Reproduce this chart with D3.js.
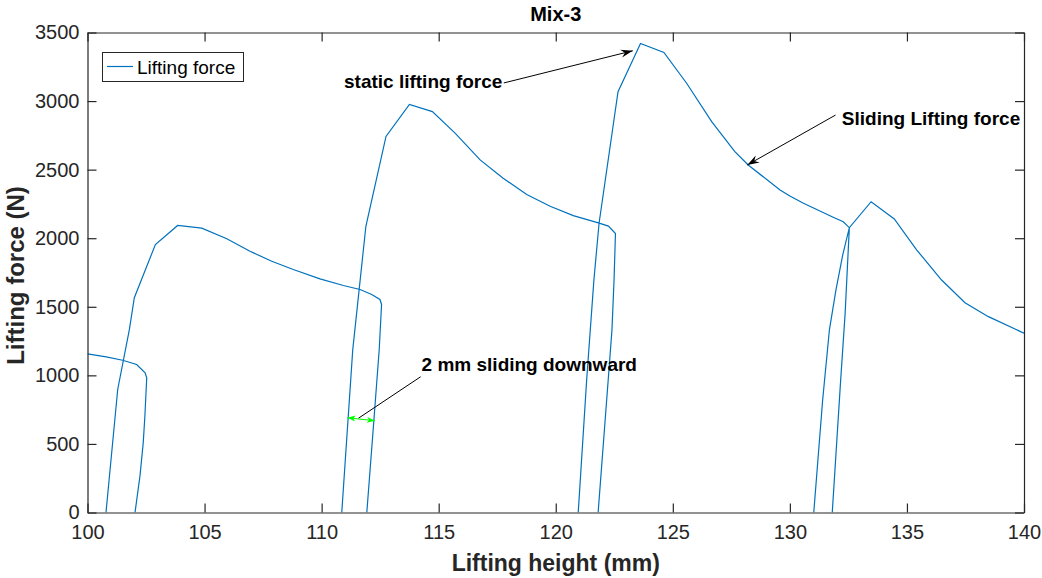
<!DOCTYPE html>
<html>
<head>
<meta charset="utf-8">
<script src="https://cdn.jsdelivr.net/npm/d3@7"></script>
<style>
  body { margin: 0; background: #fff; }
  svg { display: block; font-family: "Liberation Sans", Arial, sans-serif; }
</style>
</head>
<body>
<svg id="chart" width="1042" height="578"></svg>
<script>
// ---------- data ----------
const chartTitle = "Mix-3";
const xLabel = "Lifting height (mm)";
const yLabel = "Lifting force (N)";
const seriesName = "Lifting force";
const xTicks = [100, 105, 110, 115, 120, 125, 130, 135, 140];
const yTicks = [0, 500, 1000, 1500, 2000, 2500, 3000, 3500];

// lifting height (mm); NaN separates the cycles
const liftX = [
  100.0, 100.8, 101.5, 102.1, 102.46, 102.53, 102.45, 102.38, 102.24, 102.03, NaN,
  100.79, 101.29, 101.79, 102.0, 102.9, 103.85, 104.88, 105.95, 106.94, 107.87, 108.79, 109.93, 110.93, 111.64, 112.14, 112.49, 112.56, 112.46, 112.2, 111.93, NaN,
  110.86, 111.33, 111.89, 112.75, 113.75, 114.73, 115.7, 116.77, 117.74, 118.76, 119.76, 120.75, 121.82, 122.25, 122.55, 122.49, 122.4, 122.24, 121.81, NaN,
  120.96, 121.32, 121.63, 121.85, 122.66, 123.62, 124.62, 125.59, 126.66, 127.65, 128.22, 129.58, 130.0, 130.58, 131.85, 132.28, 132.54, 132.36, 132.17, 131.81, NaN,
  131.02, 131.4, 131.69, 131.97, 132.26, 132.54, 133.47, 134.46, 135.42, 136.48, 137.48, 138.48, 140.0
];
// lifting force (N)
const liftF = [
  1157, 1135, 1110, 1079, 1019, 982, 700, 508, 265, 0, NaN,
  0, 897, 1335, 1566, 1954, 2093, 2073, 1996, 1905, 1832, 1772, 1704, 1655, 1626, 1590, 1553, 1517, 1188, 600, 0, NaN,
  0, 1188, 2087, 2742, 2976, 2923, 2766, 2571, 2439, 2318, 2233, 2165, 2112, 2088, 2034, 1695, 1330, 966, 0, NaN,
  0, 966, 1696, 2109, 3068, 3420, 3355, 3130, 2850, 2631, 2534, 2352, 2308, 2255, 2153, 2120, 2077, 1452, 967, 0, NaN,
  0, 820, 1334, 1625, 1880, 2077, 2266, 2140, 1914, 1695, 1530, 1428, 1307
];

// annotations (data coordinates)
const annotText = ["static lifting force", "Sliding Lifting force", "2 mm sliding downward"];
const annotTextPos = [[117.72, 3095], [132.22, 2826], [114.27, 1034]];
const annotAnchor = ["end", "start", "start"];
const annotArrowFrom = [[117.78, 3132], [131.95, 2898], [114.23, 990]];
const annotArrowTo = [[123.29, 3367], [128.18, 2534], [111.57, 687]];
const annotArrowHead = [true, true, false];
const slideArrowFrom = [111.1, 691];
const slideArrowTo = [112.28, 669];

// ---------- layout ----------
const svg = d3.select("#chart");
const L = 87.5, R = 1024, T = 32.5, B = 512.5;
const x = d3.scaleLinear().domain([100, 140]).range([L, R]);
const y = d3.scaleLinear().domain([0, 3500]).range([B, T]);
const axisColor = "#262626";
const lineColor = "#0072BD";

const defs = svg.append("defs");
defs.append("marker").attr("id", "headBlack")
  .attr("viewBox", "-12 -5 14 10").attr("markerWidth", 14).attr("markerHeight", 10)
  .attr("markerUnits", "userSpaceOnUse").attr("refX", 0).attr("refY", 0).attr("orient", "auto")
  .append("path").attr("d", "M0,0 L-12,-4 L-8,0 L-12,4 Z").attr("fill", "#000");
defs.append("marker").attr("id", "headGreen")
  .attr("viewBox", "-9 -4 10 8").attr("markerWidth", 10).attr("markerHeight", 8)
  .attr("markerUnits", "userSpaceOnUse").attr("refX", 0).attr("refY", 0).attr("orient", "auto-start-reverse")
  .append("path").attr("d", "M0,0 L-8,-3 L-6,0 L-8,3 Z").attr("fill", "#00FF00");
defs.append("clipPath").attr("id", "plotClip")
  .append("rect").attr("x", L).attr("y", T).attr("width", R - L).attr("height", B - T);

// data line
const pts = liftX.map((d, i) => [d, liftF[i]]);
const line = d3.line().defined(d => !isNaN(d[0]) && !isNaN(d[1]))
  .x(d => x(d[0])).y(d => y(d[1]));
svg.append("path").datum(pts).attr("d", line)
  .attr("fill", "none").attr("stroke", lineColor).attr("stroke-width", 1.2)
  .attr("clip-path", "url(#plotClip)");

// axes
const tickLen = 9;
const fmt = d3.format("d");
const gx = svg.append("g").attr("transform", `translate(0,${B})`)
  .call(d3.axisBottom(x).tickValues(xTicks).tickFormat(fmt).tickSizeInner(-tickLen).tickSizeOuter(0).tickPadding(12));
const gy = svg.append("g").attr("transform", `translate(${L},0)`)
  .call(d3.axisLeft(y).tickValues(yTicks).tickFormat(fmt).tickSizeInner(-tickLen).tickSizeOuter(0).tickPadding(16));
const gxt = svg.append("g").attr("transform", `translate(0,${T})`)
  .call(d3.axisTop(x).tickValues(xTicks).tickSizeInner(-tickLen).tickSizeOuter(0).tickFormat(""));
const gyr = svg.append("g").attr("transform", `translate(${R},0)`)
  .call(d3.axisRight(y).tickValues(yTicks).tickSizeInner(-tickLen).tickSizeOuter(0).tickFormat(""));
[gx, gy, gxt, gyr].forEach(g => {
  g.select(".domain").attr("stroke", axisColor).attr("stroke-width", 1.2);
  g.selectAll(".tick line").attr("stroke", axisColor).attr("stroke-width", 1.2);
  g.selectAll(".tick text").attr("fill", axisColor).attr("font-size", 20)
    .attr("font-family", "'Liberation Sans', Arial, sans-serif");
});
gx.selectAll(".tick text").attr("dy", "0.71em");
gy.selectAll(".tick text").attr("dx", "8");

// title & labels
svg.append("text").attr("x", (L + R) / 2).attr("y", 21).attr("text-anchor", "middle")
  .attr("font-size", 20).attr("font-weight", "bold").attr("fill", "#000").text(chartTitle);
svg.append("text").attr("x", (L + R) / 2).attr("y", 571).attr("text-anchor", "middle")
  .attr("font-size", 23).attr("font-weight", "bold").attr("fill", axisColor).text(xLabel);
svg.append("text").attr("transform", `translate(24,${(T + B) / 2 + 3}) rotate(-90)`).attr("text-anchor", "middle")
  .attr("font-size", 24).attr("font-weight", "bold").attr("fill", axisColor).text(yLabel);

// legend
const lg = svg.append("g");
lg.append("rect").attr("x", 102.5).attr("y", 52.5).attr("width", 141).attr("height", 29)
  .attr("fill", "#fff").attr("stroke", "#262626").attr("stroke-width", 1);
lg.append("line").attr("x1", 107).attr("x2", 133).attr("y1", 66.5).attr("y2", 66.5)
  .attr("stroke", lineColor).attr("stroke-width", 1.2);
lg.append("text").attr("x", 137).attr("y", 73.5).attr("font-size", 19).attr("fill", "#000").text(seriesName);

// annotations
annotText.forEach((t, i) => {
  svg.append("line")
    .attr("x1", x(annotArrowFrom[i][0])).attr("y1", y(annotArrowFrom[i][1]))
    .attr("x2", x(annotArrowTo[i][0])).attr("y2", y(annotArrowTo[i][1]))
    .attr("stroke", "#000").attr("stroke-width", 1)
    .attr("marker-end", annotArrowHead[i] ? "url(#headBlack)" : null);
  svg.append("text").attr("x", x(annotTextPos[i][0])).attr("y", y(annotTextPos[i][1]))
    .attr("text-anchor", annotAnchor[i]).attr("font-size", 19).attr("font-weight", "bold")
    .attr("fill", "#000").text(t);
});
svg.append("line")
  .attr("x1", x(slideArrowFrom[0])).attr("y1", y(slideArrowFrom[1]))
  .attr("x2", x(slideArrowTo[0])).attr("y2", y(slideArrowTo[1]))
  .attr("stroke", "#00FF00").attr("stroke-width", 1.2)
  .attr("marker-start", "url(#headGreen)").attr("marker-end", "url(#headGreen)");
</script>
</body>
</html>
